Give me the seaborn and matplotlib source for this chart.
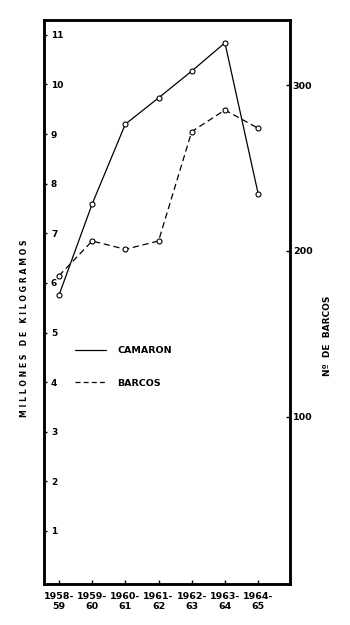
import matplotlib
matplotlib.use("Agg")
import matplotlib.pyplot as plt
from matplotlib.lines import Line2D
import seaborn as sns
import pandas as pd

# Seasons and series values
temporadas = ["1958-\n59", "1959-\n60", "1960-\n61", "1961-\n62",
              "1962-\n63", "1963-\n64", "1964-\n65"]
camaron = [5.75, 7.59, 9.20, 9.73, 10.27, 10.84, 7.80]   # millones de kg
barcos = [185, 206, 201, 206, 272, 285, 274]             # número de barcos

kg_ticks = list(range(1, 12))
barcos_ticks = [100, 200, 300]

sns.set_style("ticks")
plt.rcParams["font.family"] = ["DejaVu Sans"]
plt.rcParams.update({"text.color": "black", "xtick.color": "black",
                     "ytick.color": "black", "axes.labelcolor": "black"})

df = pd.DataFrame({"idx": range(len(temporadas)),
                   "camaron": camaron, "barcos": barcos})

fig = plt.figure(figsize=(3.5, 6.25), dpi=100)
ax = fig.add_axes([44 / 350, 41 / 625, 246 / 350, 564 / 625])
ax2 = ax.twinx()

line_kw = dict(color="black", linewidth=0.9, marker="o", markersize=3.6,
               markerfacecolor="white", markeredgecolor="black",
               markeredgewidth=0.8)

sns.lineplot(data=df, x="idx", y="camaron", ax=ax, **line_kw)
sns.lineplot(data=df, x="idx", y="barcos", ax=ax2, dashes=False,
             linestyle=(0, (5, 3)), **line_kw)

ax.set_xlim(-0.45, 6.96)
ax.set_ylim(-0.07, 11.3)
ax2.set_ylim(-0.9, 339.3)

ax.set_xticks(range(len(temporadas)))
ax.set_xticklabels(temporadas, fontsize=6.8, fontweight="bold",
                   linespacing=1.05)
ax.set_yticks(kg_ticks)
ax.set_yticklabels([str(v) for v in kg_ticks], fontsize=6.5,
                   fontweight="bold", ha="left")
ax2.set_yticks(barcos_ticks)
ax2.set_yticklabels([str(v) for v in barcos_ticks], fontsize=6.8,
                    fontweight="bold")

ax.tick_params(axis="x", direction="in", length=3, width=1, pad=6,
               colors="black")
ax.tick_params(axis="y", direction="in", length=2.5, width=1, pad=-5,
               colors="black")
ax2.tick_params(axis="y", direction="in", length=3, width=1, pad=2,
                colors="black")

ax.set_xlabel("")
ax.set_ylabel("")
ax2.set_ylabel("")

for a in (ax, ax2):
    for s in a.spines.values():
        s.set_linewidth(1.8)
        s.set_color("black")

handles = [Line2D([], [], color="black", linewidth=0.9),
           Line2D([], [], color="black", linewidth=0.9, linestyle=(0, (4, 2.5)))]
ax.legend(handles, ["CAMARON", "BARCOS"], loc="center left",
          bbox_to_anchor=(0.09, 0.385), frameon=False,
          prop={"size": 6.8, "weight": "bold"}, handlelength=3.3,
          handletextpad=1.2, labelspacing=2.5, labelcolor="black")

fig.text(25 / 350, 1 - 328 / 625, "M I L L O N E S   D E   K I L O G R A M O S",
         rotation=90, ha="center", va="center", fontsize=5.6,
         fontweight="bold", color="black")
fig.text(327 / 350, 1 - 336 / 625, "Nº  DE  BARCOS", rotation=90,
         ha="center", va="center", fontsize=6.5, fontweight="bold",
         color="black")

fig.savefig("out.png", dpi=100, facecolor="white")
